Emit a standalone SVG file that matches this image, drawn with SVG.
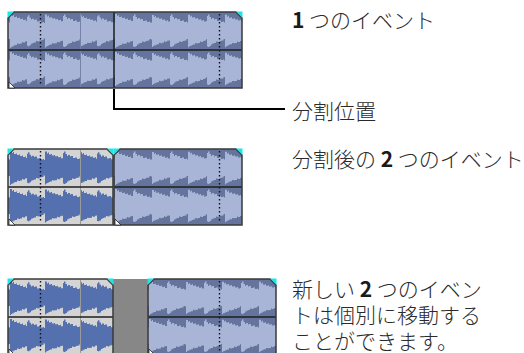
<svg xmlns="http://www.w3.org/2000/svg" xmlns:xlink="http://www.w3.org/1999/xlink" width="524" height="353" viewBox="0 0 524 353">
  <style>
    .bg-dark { fill: #65749c; }
    .bg-sel { fill: #d4d4d4; }
    .wf-light { fill: #a9b5d7; }
    .wf-blue { fill: #5570ae; }
    .frame { fill: none; stroke: #3a3a3a; stroke-width: 1.5; }
    .divider { stroke: #1e1e1e; stroke-width: 1.5; }
    .grid { stroke: #111; stroke-width: 1.4; stroke-dasharray: 1.4 2.6; }
    .bar { stroke: #9a9a9a; stroke-width: 1; }
    .bar-dark { stroke: #7683a8; stroke-width: 1; }
    .cyan { fill: #1ee6e6; }
    .fade { fill: #fff; stroke: #222; stroke-width: 0.8; }
    .gap { fill: #878787; }
    .conn { fill: none; stroke: #000; stroke-width: 2; }
    .lbl { font-family: "Noto Sans CJK JP", "Noto Sans", sans-serif; font-size: 21px; font-weight: 300; fill: #2a2a2a; }
    .num { font-weight: 700; fill: #1a1a1a; }
  </style>
  <defs>
    <!-- two drum-hit shapes: sharp attack, stepped decay, centred on y=0 -->
    <path id="hitA" d="M0,-17 H2 V-15 H3 V-16 H4 V-14 H6 V-14.5 H7 V-13 H9 V-13.5 H10 V-12 H12 V-12.5 H13 V-11 H15 V-11.5 H16 V-10 H18 V-10.5 H19 V-9 H21 V-8.5 H23 V8 H21 V9 H19.5 V8.5 H18 V10 H16.5 V10.5 H15 V11.5 H13 V11 H12 V12.5 H10 V13 H8.5 V12.5 H7 V14 H5 V14.5 H3.5 V15.5 H2 V16 H1 V17 H0 Z"/>
    <path id="hitB" d="M0,-15 H1 V-16.5 H2.5 V-14 H4 V-12 H5 V-13 H7 V-11.5 H8 V-12 H10 V-10 H12 V-10.5 H14 V-9 H16 V-9.5 H17 V-8.5 H20 V-8 H23 V7.5 H20.5 V8.5 H18 V8 H16.5 V9.5 H14.5 V10 H12.5 V11 H10.5 V10.5 H9 V12 H7 V12.5 H5.5 V13.5 H4 V15 H2.5 V16 H1 V15.5 H0 Z"/>
    <!-- one channel of the clip; x=0 is the start of the audio -->
    <g id="wave">
      <rect x="-20" y="-7" width="270" height="14"/>
      <use xlink:href="#hitB" transform="translate(-16,0)"/>
      <use xlink:href="#hitA" transform="translate(2,0)"/>
      <use xlink:href="#hitB" transform="translate(19,0) scale(1,0.95)"/>
      <use xlink:href="#hitA" transform="translate(37,0) scale(1,0.97)"/>
      <use xlink:href="#hitB" transform="translate(55,0)"/>
      <use xlink:href="#hitA" transform="translate(72,0) scale(1,0.93)"/>
      <use xlink:href="#hitB" transform="translate(89,0) scale(1,0.96)"/>
      <use xlink:href="#hitA" transform="translate(107,0)"/>
      <use xlink:href="#hitB" transform="translate(125,0)"/>
      <use xlink:href="#hitA" transform="translate(144,0) scale(1,0.94)"/>
      <use xlink:href="#hitB" transform="translate(162,0)"/>
      <use xlink:href="#hitA" transform="translate(180,0) scale(1,0.96)"/>
      <use xlink:href="#hitB" transform="translate(199,0)"/>
      <use xlink:href="#hitA" transform="translate(217,0) scale(1,0.95)"/>
      <use xlink:href="#hitB" transform="translate(235,0)"/>
    </g>
    <!-- both channels, event top at y=0 -->
    <g id="stereo">
      <use xlink:href="#wave" y="19"/>
      <use xlink:href="#wave" y="57"/>
    </g>
    <clipPath id="clip-whole"><rect x="8" y="12" width="234" height="76"/></clipPath>
    <clipPath id="clip-a"><rect x="8" y="149" width="105" height="76"/></clipPath>
    <clipPath id="clip-b"><rect x="114" y="149" width="128" height="76"/></clipPath>
    <clipPath id="clip-a2"><rect x="8" y="279" width="105" height="76"/></clipPath>
    <clipPath id="clip-b2"><rect x="148" y="279" width="128" height="76"/></clipPath>
  </defs>

  <!-- row 1: the whole event with the split position -->
  <g id="event-whole">
    <rect class="bg-dark" x="8" y="12" width="234" height="76"/>
    <g clip-path="url(#clip-whole)">
      <use xlink:href="#stereo" class="wf-light" x="8" y="12"/>
    </g>
    <line class="bar-dark" x1="80.5" y1="13" x2="80.5" y2="87"/>
    <line class="grid" x1="40.5" y1="14" x2="40.5" y2="86"/>
    <line class="grid" x1="219.5" y1="14" x2="219.5" y2="86"/>
    <line class="divider" x1="8" y1="50" x2="242" y2="50"/>
    <line class="divider" x1="114" y1="12" x2="114" y2="88"/>
    <polygon class="frame" points="8,18 14,12 236,12 242,18 242,88 8,88"/>
    <polygon class="cyan" points="7.5,11.5 14,11.5 7.5,18"/>
    <polygon class="cyan" points="236,11.5 242.5,11.5 242.5,18"/>
    <polygon class="fade" points="9,82 9,88 15,88"/>
  </g>

  <!-- row 2: the two events after the split -->
  <g id="event-a">
    <rect class="bg-sel" x="8" y="149" width="105" height="76"/>
    <g clip-path="url(#clip-a)">
      <use xlink:href="#stereo" class="wf-blue" x="8" y="149"/>
    </g>
    <line class="bar" x1="80.5" y1="150" x2="80.5" y2="224"/>
    <line class="grid" x1="40.5" y1="151" x2="40.5" y2="223"/>
    <line class="divider" x1="8" y1="187" x2="113" y2="187"/>
    <polygon class="frame" points="8,155 14,149 107,149 113,155 113,225 8,225"/>
    <polygon class="cyan" points="7.5,148.5 14,148.5 7.5,155"/>
    <polygon class="cyan" points="107,148.5 113.5,148.5 113.5,155"/>
    <polygon class="fade" points="9,219 9,225 15,225"/>
  </g>
  <g id="event-b">
    <rect class="bg-dark" x="114" y="149" width="128" height="76"/>
    <g clip-path="url(#clip-b)">
      <use xlink:href="#stereo" class="wf-light" x="8" y="149"/>
    </g>
    <line class="grid" x1="219.5" y1="151" x2="219.5" y2="223"/>
    <line class="divider" x1="114" y1="187" x2="242" y2="187"/>
    <polygon class="frame" points="114,155 120,149 236,149 242,155 242,225 114,225"/>
    <polygon class="cyan" points="113.5,148.5 120,148.5 113.5,155"/>
    <polygon class="cyan" points="236,148.5 242.5,148.5 242.5,155"/>
    <polygon class="fade" points="115,219 115,225 121,225"/>
  </g>

  <!-- row 3: the second event moved to the right -->
  <g id="gap">
    <rect class="gap" x="113" y="279" width="35" height="80"/>
  </g>
  <g id="event-a-moved">
    <rect class="bg-sel" x="8" y="279" width="105" height="76"/>
    <g clip-path="url(#clip-a2)">
      <use xlink:href="#stereo" class="wf-blue" x="8" y="279"/>
    </g>
    <line class="bar" x1="80.5" y1="280" x2="80.5" y2="354"/>
    <line class="grid" x1="40.5" y1="281" x2="40.5" y2="353"/>
    <line class="divider" x1="8" y1="317" x2="113" y2="317"/>
    <polygon class="frame" points="8,285 14,279 107,279 113,285 113,355 8,355"/>
    <polygon class="cyan" points="7.5,278.5 14,278.5 7.5,285"/>
    <polygon class="cyan" points="107,278.5 113.5,278.5 113.5,285"/>
    <polygon class="fade" points="9,349 9,355 15,355"/>
  </g>
  <g id="event-b-moved">
    <rect class="bg-dark" x="148" y="279" width="128" height="76"/>
    <g clip-path="url(#clip-b2)">
      <use xlink:href="#stereo" class="wf-light" x="42" y="279"/>
    </g>
    <line class="grid" x1="219.5" y1="281" x2="219.5" y2="353"/>
    <line class="divider" x1="148" y1="317" x2="276" y2="317"/>
    <polygon class="frame" points="148,285 154,279 270,279 276,285 276,355 148,355"/>
    <polygon class="cyan" points="147.5,278.5 154,278.5 147.5,285"/>
    <polygon class="cyan" points="270,278.5 276.5,278.5 276.5,285"/>
    <polygon class="fade" points="149,349 149,355 155,355"/>
  </g>

  <!-- leader from the split position to its label -->
  <g id="connectors">
    <polyline class="conn" points="114,89 114,109 285,109"/>
  </g>

  <!-- labels -->
  <g id="label-one">
    <text class="lbl" x="292" y="28"><tspan class="num">1</tspan> つのイベント</text>
  </g>
  <g id="label-split">
    <text class="lbl" x="292" y="119">分割位置</text>
  </g>
  <g id="label-two">
    <text class="lbl" x="292" y="167">分割後の <tspan class="num">2</tspan> つのイベント</text>
  </g>
  <g id="label-move">
    <text class="lbl" x="292" y="297">新しい <tspan class="num">2</tspan> つのイベン</text>
    <text class="lbl" x="292" y="323">トは個別に移動する</text>
    <text class="lbl" x="292" y="349">ことができます。</text>
  </g>
</svg>
